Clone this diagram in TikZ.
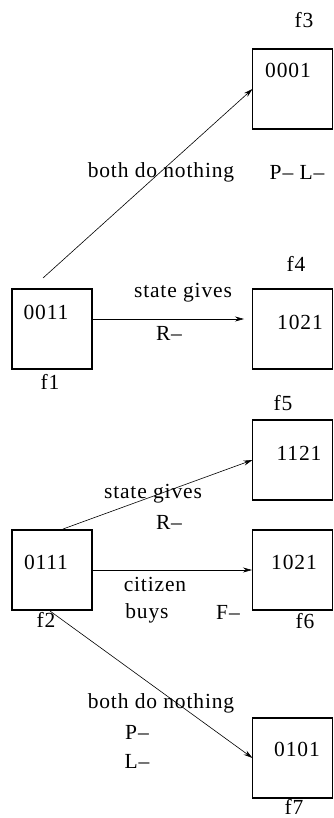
\documentclass[tikz,border=0pt]{standalone}
\usepackage{fontspec}
\setmainfont{Liberation Serif}[LetterSpace=4]
\usetikzlibrary{arrows.meta}
\begin{document}
\begin{tikzpicture}[x=1pt,y=-1pt,
  statebox/.style={draw,rectangle,line width=1.1pt,minimum width=80pt,minimum height=80pt,inner sep=0pt,outer sep=0pt},
  lbl/.style={inner sep=0pt,font=\fontsize{21.5}{24}\selectfont},
  move/.style={line width=0.6pt,-{Stealth[length=9pt,width=5pt]}}]
\useasboundingbox (0,0) rectangle (333,818);
% state boxes
\node[statebox] (f1) at (52,329) {};
\node[statebox] (f2) at (52,570) {};
\node[statebox] (f3) at (292.5,89) {};
\node[statebox] (f4) at (292.5,329) {};
\node[statebox] (f5) at (292.5,460) {};
\node[statebox] (f6) at (292.5,570) {};
\node[statebox] (f7) at (292.5,758) {};
% state values
\node[lbl] (v1) at (46,312) {0011};
\node[lbl] (v2) at (46,562) {0111};
\node[lbl] (v3) at (288,70) {0001};
\node[lbl] (v4) at (300,322) {1021};
\node[lbl] (v5) at (299,453) {1121};
\node[lbl] (v6) at (294,562) {1021};
\node[lbl] (v7) at (297,749) {0101};
% state names
\node[lbl] (n1) at (50,382) {f1};
\node[lbl] (n2) at (46,620) {f2};
\node[lbl] (n3) at (304,20) {f3};
\node[lbl] (n4) at (296,264) {f4};
\node[lbl] (n5) at (283,403) {f5};
\node[lbl] (n6) at (305,621) {f6};
\node[lbl] (n7) at (294,807) {f7};
% connector end points
\coordinate (s13) at (43,278);
\coordinate (s14) at (93,319);
\coordinate (e14) at (244,319);
\coordinate (s25) at (63,529);
\coordinate (e26) at (252,570);
\coordinate (s27) at (50,611);
% transitions
\draw[move] (s13) -- (f3.west);
\draw[move] (s14) -- (e14);
\draw[move] (s25) -- (f5.west);
\draw[move] (f2.east) -- (e26);
\draw[move] (s27) -- (f7.west);
% transition labels
\node[lbl] (t3a) at (161,172) {both do nothing};
\node[lbl] (t3b) at (297,172) {P-- L--};
\node[lbl] (t4a) at (183,293) {state gives};
\node[lbl] (t4b) at (169,333) {R--};
\node[lbl] (t5a) at (153,494) {state gives};
\node[lbl] (t5b) at (169,522) {R--};
\node[lbl] (t6a) at (155,584) {citizen};
\node[lbl] (t6b) at (147,613) {buys};
\node[lbl] (t6c) at (228,612) {F--};
\node[lbl] (t7a) at (161,703) {both do nothing};
\node[lbl] (t7b) at (137,732) {P--};
\node[lbl] (t7c) at (137,761) {L--};
\end{tikzpicture}
\end{document}
